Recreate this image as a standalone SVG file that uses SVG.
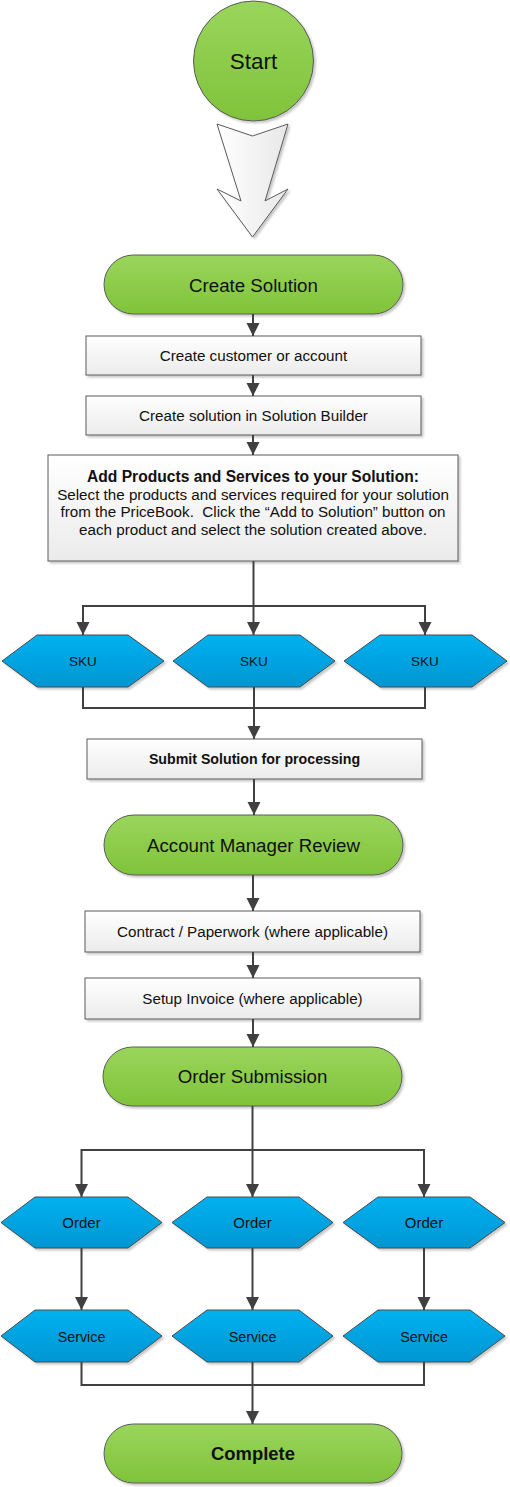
<svg xmlns="http://www.w3.org/2000/svg" width="510" height="1487" viewBox="0 0 510 1487">
<defs>
<linearGradient id="gGreen" x1="0" y1="0" x2="0" y2="1"><stop offset="0" stop-color="#9ad55c"/><stop offset="1" stop-color="#80c33a"/></linearGradient>
<linearGradient id="gBlue" x1="0" y1="0" x2="0" y2="1"><stop offset="0" stop-color="#00b1ef"/><stop offset="1" stop-color="#0096d2"/></linearGradient>
<linearGradient id="gGray" x1="0" y1="0" x2="0" y2="1"><stop offset="0" stop-color="#ffffff"/><stop offset="1" stop-color="#ebebeb"/></linearGradient>
<linearGradient id="gArrow" x1="0" y1="0" x2="1" y2="0"><stop offset="0" stop-color="#ffffff"/><stop offset="1" stop-color="#e8e8e8"/></linearGradient>
<filter id="sh" x="-10%" y="-10%" width="130%" height="140%"><feDropShadow dx="2" dy="2" stdDeviation="1.2" flood-color="#000" flood-opacity="0.22"/></filter>
<marker id="ah" markerUnits="userSpaceOnUse" markerWidth="14" markerHeight="14" refX="13" refY="7" orient="auto"><path d="M0,0.5 L13,7 L0,13.5 z" fill="#404040"/></marker>
</defs>
<style>
.pill{fill:url(#gGreen);stroke:#5a5a5a;stroke-width:1;filter:url(#sh)}
.box{fill:url(#gGray);stroke:#5a5a5a;stroke-width:1;filter:url(#sh)}
.hex{fill:url(#gBlue);stroke:#4a4a4a;stroke-width:1;filter:url(#sh)}
.t{font-family:"Liberation Sans",Arial,sans-serif;fill:#111;text-anchor:middle}
.tp{font-size:18.7px}
.tb{font-size:15.2px}
.c{fill:none;stroke:#404040;stroke-width:2}
.ca{fill:none;stroke:#404040;stroke-width:2;marker-end:url(#ah)}
</style>

<g id="start">
<circle cx="253.5" cy="61" r="60" class="pill"/>
<text class="t" x="253.5" y="68.5" font-size="22.4px">Start</text>
</g>

<g id="start-arrow">
<polygon points="217,124 252.5,136 288,124 265,201 288,189 252.5,237 217,189 241,201" fill="url(#gArrow)" stroke="#5a5a5a" stroke-width="1" filter="url(#sh)"/>
</g>

<g id="create-solution">
<rect x="104" y="255" width="299" height="59" rx="29.5" class="pill"/>
<text class="t tp" x="253.5" y="291.5">Create Solution</text>
</g>

<g id="create-customer">
<rect x="86" y="336" width="335" height="39" class="box"/>
<text class="t tb" x="253.5" y="361">Create customer or account</text>
</g>

<g id="create-solution-builder">
<rect x="86" y="396" width="335" height="39" class="box"/>
<text class="t tb" x="253.5" y="421">Create solution in Solution Builder</text>
</g>

<g id="add-products">
<rect x="48" y="455" width="410" height="106" class="box"/>
<text class="t" x="253" y="482" font-size="15.6px" font-weight="bold">Add Products and Services to your Solution:</text>
<text class="t tb" x="253" y="499.5">Select the products and services required for your solution</text>
<text class="t tb" x="253" y="517" xml:space="preserve">from the PriceBook.  Click the “Add to Solution” button on</text>
<text class="t tb" x="253" y="535">each product and select the solution created above.</text>
</g>

<g id="sku1">
<polygon points="2,661 37,635 128,635 164,661 128,687 37,687" class="hex"/>
<text class="t" x="83" y="666" font-size="13.5px">SKU</text>
</g>
<g id="sku2">
<polygon points="173,661 208,635 300,635 335,661 300,687 208,687" class="hex"/>
<text class="t" x="254" y="666" font-size="13.5px">SKU</text>
</g>
<g id="sku3">
<polygon points="344,661 380,635 472,635 507,661 472,687 380,687" class="hex"/>
<text class="t" x="425" y="666" font-size="13.5px">SKU</text>
</g>

<g id="submit">
<rect x="87" y="739" width="335" height="40" class="box"/>
<text class="t" x="254.5" y="764" font-size="14.2px" font-weight="bold">Submit Solution for processing</text>
</g>

<g id="account-manager-review">
<rect x="104" y="815" width="299" height="60" rx="30" class="pill"/>
<text class="t tp" x="253.5" y="851.5">Account Manager Review</text>
</g>

<g id="contract">
<rect x="85" y="911" width="335" height="41" class="box"/>
<text class="t tb" x="252.5" y="936.5">Contract / Paperwork (where applicable)</text>
</g>

<g id="setup-invoice">
<rect x="85" y="978" width="335" height="41" class="box"/>
<text class="t tb" x="252.5" y="1004">Setup Invoice (where applicable)</text>
</g>

<g id="order-submission">
<rect x="103" y="1047" width="299" height="59" rx="29.5" class="pill"/>
<text class="t tp" x="252.5" y="1083">Order Submission</text>
</g>

<g id="order1">
<polygon points="1,1222.5 35,1197 128,1197 162,1222.5 128,1248 35,1248" class="hex"/>
<text class="t" x="81.5" y="1228" font-size="15px">Order</text>
</g>
<g id="order2">
<polygon points="172,1222.5 207,1197 299,1197 333,1222.5 299,1248 207,1248" class="hex"/>
<text class="t" x="252.5" y="1228" font-size="15px">Order</text>
</g>
<g id="order3">
<polygon points="343,1222.5 378,1197 470,1197 505,1222.5 470,1248 378,1248" class="hex"/>
<text class="t" x="424" y="1228" font-size="15px">Order</text>
</g>

<g id="service1">
<polygon points="1,1336 35,1310 128,1310 162,1336 128,1362 35,1362" class="hex"/>
<text class="t" x="81.5" y="1341.5" font-size="14.3px">Service</text>
</g>
<g id="service2">
<polygon points="172,1336 207,1310 299,1310 333,1336 299,1362 207,1362" class="hex"/>
<text class="t" x="252.5" y="1341.5" font-size="14.3px">Service</text>
</g>
<g id="service3">
<polygon points="343,1336 378,1310 470,1310 505,1336 470,1362 378,1362" class="hex"/>
<text class="t" x="424" y="1341.5" font-size="14.3px">Service</text>
</g>

<g id="complete">
<rect x="104" y="1424" width="298" height="59" rx="29.5" class="pill"/>
<text class="t" x="253" y="1459.5" font-size="18.4px" font-weight="bold">Complete</text>
</g>

<g id="connectors">
<path class="ca" d="M253,314 V336"/>
<path class="ca" d="M253,375 V396"/>
<path class="ca" d="M253,435 V455"/>
<path class="ca" d="M253.5,561 V635"/>
<path class="ca" d="M253.5,606 H83 V635"/>
<path class="ca" d="M253.5,606 H425 V635"/>
<path class="c" d="M83,687 V708 H425 V687"/>
<path class="ca" d="M254,687 V739"/>
<path class="ca" d="M254,779 V815"/>
<path class="ca" d="M253,875 V911"/>
<path class="ca" d="M253,952 V978"/>
<path class="ca" d="M253,1019 V1047"/>
<path class="ca" d="M252.5,1106 V1197"/>
<path class="ca" d="M252.5,1150 H81.5 V1197"/>
<path class="ca" d="M252.5,1150 H424 V1197"/>
<path class="ca" d="M81.5,1248 V1310"/>
<path class="ca" d="M252.5,1248 V1310"/>
<path class="ca" d="M424,1248 V1310"/>
<path class="c" d="M81.5,1362 V1385 H424 V1362"/>
<path class="ca" d="M252.5,1362 V1424"/>
</g>
</svg>
